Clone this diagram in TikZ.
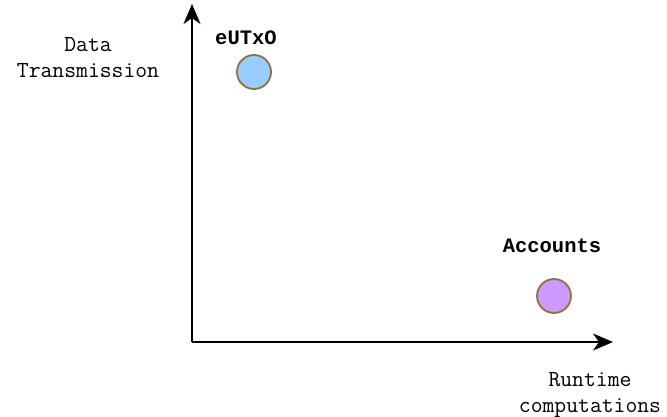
\documentclass[tikz,border=0pt]{standalone}
\usepackage{fontspec}
\newfontfamily\heavymono{Liberation Mono}
\usetikzlibrary{arrows.meta}

\definecolor{utxoblue}{HTML}{99CCFF}
\definecolor{acctviolet}{HTML}{CC99FF}
\definecolor{rimbrown}{HTML}{8C7440}

\tikzset{
  axis/.style={line width=2pt, -{Stealth[length=20pt,width=17pt,inset=6pt]}},
  model/.style={circle, draw=rimbrown, line width=1.8pt, minimum size=34pt, inner sep=0pt},
  axislabel/.style={font=\ttfamily\fontsize{23}{26}\selectfont, align=center},
  modellabel/.style={font=\heavymono\bfseries\fontsize{20.5}{24}\selectfont}
}

\begin{document}
\begin{tikzpicture}[x=1pt, y=-1pt]
    \useasboundingbox (0,0) rectangle (667,417);
    % axes
    \coordinate (origin) at (192,342);
    \coordinate (ytop) at (192,4);
    \coordinate (xend) at (613,342);
    \draw[axis] (origin) -- (ytop);
    \draw[axis] (origin) -- (xend);
    \node[axislabel] (ylab) at (88,58) {Data\\Transmission};
    \node[axislabel] (xlab) at (590,395) {Runtime\\computations};
    % the two models
    \node[model, fill=utxoblue] (utxo) at (254,72) {};
    \node[modellabel] (utxolab) at (246,38) {eUTxO};
    \node[model, fill=acctviolet] (acct) at (554,296) {};
    \node[modellabel] (acctlab) at (552,246) {Accounts};
\end{tikzpicture}
\end{document}
